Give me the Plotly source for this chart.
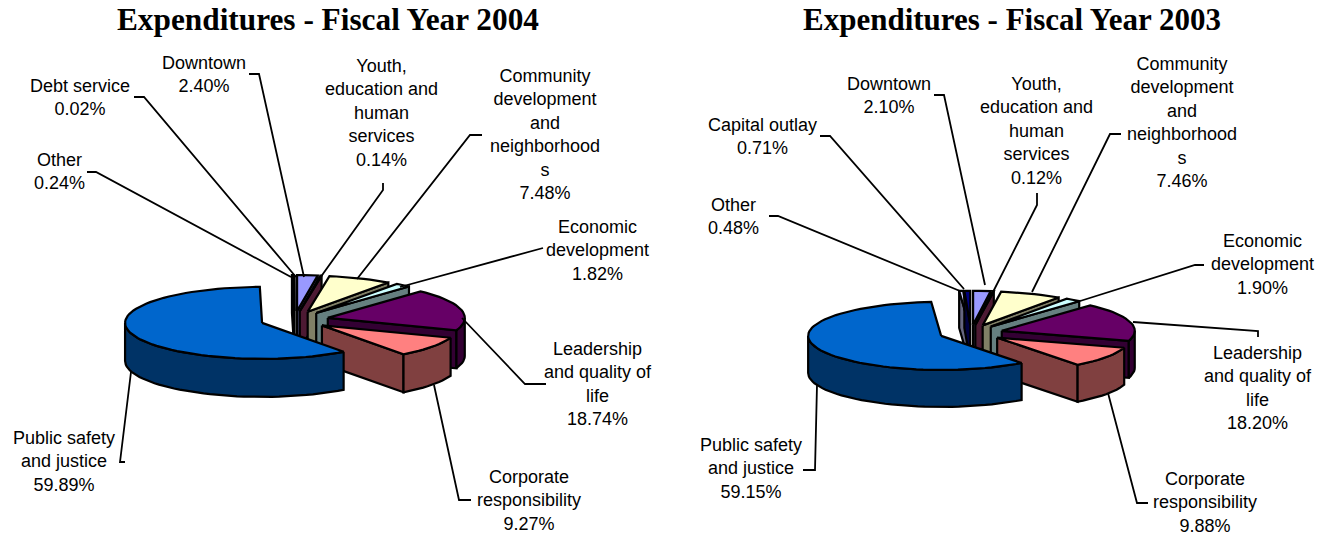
import math
import plotly.graph_objects as go

# ---- data ----
categories_2004 = ["Downtown", "Youth, education and human services",
                   "Community development and neighborhoods", "Economic development",
                   "Leadership and quality of life", "Corporate responsibility",
                   "Public safety and justice", "Other", "Debt service"]
values_2004 = [2.40, 0.14, 7.48, 1.82, 18.74, 9.27, 59.89, 0.24, 0.02]

categories_2003 = ["Downtown", "Youth, education and human services",
                   "Community development and neighborhoods", "Economic development",
                   "Leadership and quality of life", "Corporate responsibility",
                   "Public safety and justice", "Other", "Capital outlay"]
values_2003 = [2.10, 0.12, 7.46, 1.90, 18.20, 9.88, 59.15, 0.48, 0.71]

label_lines = {
    "Downtown": "Downtown",
    "Youth, education and human services": "Youth,<br>education and<br>human<br>services",
    "Community development and neighborhoods": "Community<br>development<br>and<br>neighborhood<br>s",
    "Economic development": "Economic<br>development",
    "Leadership and quality of life": "Leadership<br>and quality of<br>life",
    "Corporate responsibility": "Corporate<br>responsibility",
    "Public safety and justice": "Public safety<br>and justice",
    "Other": "Other",
    "Debt service": "Debt service",
    "Capital outlay": "Capital outlay",
}

top_colors = ["#9999FF", "#993366", "#FFFFCC", "#CCFFFF", "#660066", "#FF8080", "#0066CC", "#CCCCFF", "#000080"]
wall_colors = ["#4D4D80", "#4D1A33", "#808066", "#668080", "#330033", "#804040", "#003366", "#666680", "#000040"]

# ---- layout of each chart (pixels of the 1330x537 page) ----
charts = [
    dict(title="Expenditures - Fiscal Year 2004", tx=328, ty=19, tsize=31.3, cats=categories_2004, vals=values_2004,
         cx=294.5, cy=320, rx=137, ry=36, depth=38, explode=0.25,
         labels=[(204, 74), (381, 113), (545, 134), (597, 250), (598, 384), (529, 500), (64, 461), (59, 171), (80, 97)],
         leaders=[[(249, 74), (259, 74), (304, 277)],
                  [(383, 183), (383, 190), (320, 278)],
                  [(482, 135), (470, 135), (357, 279)],
                  [(543, 248), (400, 287)],
                  [(546, 384), (525, 384), (462, 318)],
                  [(471, 500), (459, 500), (434, 385)],
                  [(125, 462), (120, 462), (131, 372)],
                  [(87, 172), (96, 172), (291, 277)],
                  [(134, 97), (144, 97), (296, 277)]]),
    dict(title="Expenditures - Fiscal Year 2003", tx=1011.5, ty=19, tsize=31, cats=categories_2003, vals=values_2003,
         cx=971, cy=333, rx=133, ry=34, depth=37, explode=0.24,
         labels=[(889, 95), (1036, 131), (1182, 122), (1262, 264), (1258, 388), (1205, 502), (751, 468), (733, 216), (762, 136)],
         leaders=[[(934, 95), (944, 95), (985, 285)],
                  [(1037, 193), (1037, 205), (993, 292)],
                  [(1121, 134), (1110, 134), (1032, 292)],
                  [(1204, 265), (1195, 265), (1077, 302)],
                  [(1258, 337), (1258, 331), (1133, 322)],
                  [(1148, 503), (1137, 503), (1108, 393)],
                  [(803, 470), (815, 470), (817, 385)],
                  [(769, 216), (778, 216), (960, 291)],
                  [(820, 136), (830, 136), (964, 289)]]),
]

fig = go.Figure()


def poly(xs, ys, color):
    fig.add_trace(go.Scatter(x=xs + xs[:1], y=ys + ys[:1], mode="lines", fill="toself", fillcolor=color,
                             line=dict(color="black", width=2.2), hoverinfo="skip", showlegend=False))


def arc_angles(a0, a1):
    n = max(2, int((a1 - a0) / 3) + 2)
    return [a0 + (a1 - a0) * i / (n - 1) for i in range(n)]


for ch in charts:
    total = sum(ch["vals"])
    cum, slices = 0.0, []
    for i, v in enumerate(ch["vals"]):
        a0 = cum / total * 360
        cum += v
        slices.append((i, a0, cum / total * 360))
    public = 6
    order = [7, 8, 0, 1, 2, 3, 4, 5, public]
    rx, ry, d = ch["rx"], ch["ry"], ch["depth"]
    for i in order:
        _, a0, a1 = slices[i]
        mid = math.radians((a0 + a1) / 2)
        ax = ch["cx"] + ch["explode"] * rx * math.sin(mid)
        ay = ch["cy"] - ch["explode"] * ry * math.cos(mid)
        px = lambda a: ax + rx * math.sin(math.radians(a))
        py = lambda a: ay - ry * math.cos(math.radians(a))
        # radial walls seen from the front
        if math.sin(math.radians(a1)) > 0:
            poly([ax, px(a1), px(a1), ax], [ay, py(a1), py(a1) + d, ay + d], wall_colors[i])
        if math.sin(math.radians(a0)) < 0:
            poly([ax, px(a0), px(a0), ax], [ay, py(a0), py(a0) + d, ay + d], wall_colors[i])
        # outer rim wall (front half only)
        r0, r1 = max(a0, 90), min(a1, 270)
        if r1 > r0:
            ang = arc_angles(r0, r1)
            xs = [px(a) for a in ang]
            ys = [py(a) for a in ang]
            poly(xs + xs[::-1], ys + [y + d for y in ys[::-1]], wall_colors[i])
        # top surface
        ang = arc_angles(a0, a1)
        poly([ax] + [px(a) for a in ang], [ay] + [py(a) for a in ang], top_colors[i])

    # leader lines
    for pts in ch["leaders"]:
        fig.add_trace(go.Scatter(x=[p[0] for p in pts], y=[p[1] for p in pts], mode="lines",
                                 line=dict(color="black", width=1.8), hoverinfo="skip", showlegend=False))

    # data labels
    for name, v, (lx, ly) in zip(ch["cats"], ch["vals"], ch["labels"]):
        fig.add_annotation(x=lx, y=ly, xref="x", yref="y", showarrow=False, align="center",
                           xanchor="center", yanchor="middle",
                           text=f"{label_lines[name]}<br>{v:.2f}%",
                           font=dict(family="Liberation Sans", size=18, color="black"))
    fig.add_annotation(x=ch["tx"], y=ch["ty"], xref="x", yref="y", showarrow=False,
                       xanchor="center", yanchor="middle", text=f"<b>{ch['title']}</b>",
                       font=dict(family="Liberation Serif", size=ch["tsize"], color="black"))

fig.update_layout(width=1330, height=537, margin=dict(l=0, r=0, t=0, b=0),
                  paper_bgcolor="white", plot_bgcolor="white", showlegend=False,
                  xaxis=dict(range=[0, 1330], visible=False, fixedrange=True),
                  yaxis=dict(range=[537, 0], visible=False, fixedrange=True))

fig.write_html("out.html", config={"displayModeBar": False},
               post_script="document.body.style.margin='0';document.body.style.overflow='hidden';")
